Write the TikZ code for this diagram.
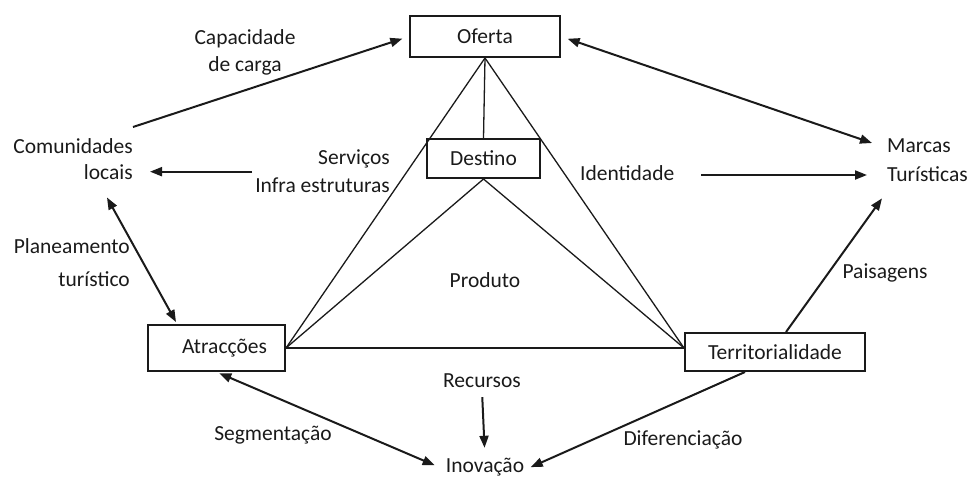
\documentclass[tikz,border=0pt]{standalone}
\usepackage{fontspec}
\setmainfont{Carlito}
\usetikzlibrary{arrows.meta}
\definecolor{ink}{HTML}{1A1A1A}
\begin{document}
\begin{tikzpicture}[x=1pt,y=-1pt,
  lbl/.style={inner sep=0pt,text=ink,font=\fontsize{21.5}{26.5}\selectfont,text height=14pt,text depth=4pt},
  mlbl/.style={inner sep=0pt,text=ink,font=\fontsize{21.5}{#1}\selectfont},
  box/.style={draw=ink,line width=2pt,inner sep=0pt,text=ink,font=\fontsize{21.5}{26.5}\selectfont},
  thin/.style={draw=ink,line width=1.3pt},
  arr/.style={draw=ink,line width=2pt,-{Triangle[length=12pt,width=9pt]}},
  darr/.style={draw=ink,line width=2pt,{Triangle[length=12pt,width=9pt]}-{Triangle[length=12pt,width=9pt]}}
]
\useasboundingbox (0,0) rectangle (974,477);
% boxes
\node[box,minimum width=150pt,minimum height=41pt] (of) at (485,36.5) {Oferta};
\node[box,minimum width=113pt,minimum height=39pt] (de) at (483.5,158.5) {Destino};
\node[box,minimum width=137pt,minimum height=46pt] (at) at (216.5,348) {\hspace*{16pt}Atracções};
\node[box,minimum width=180pt,minimum height=38pt] (te) at (775,352) {Territorialidade};
% labels
\node[mlbl=27pt,align=center,anchor=north] (cap) at (245,29) {Capacidade\\de carga};
\node[mlbl=26pt,align=right,anchor=north east] (com) at (133,138) {Comunidades\\locais};
\node[mlbl=28pt,align=right,anchor=north east] (serv) at (390,150) {Serviços\\Infra estruturas};
\node[mlbl=29pt,align=left,anchor=north west] (mar) at (887,139) {Marcas\\Turísticas};
\node[mlbl=33pt,align=right,anchor=north east] (plan) at (130,238) {Planeamento\\turístico};
\node[lbl,anchor=west] (ident) at (580,175) {Identidade};
\node[lbl] (prod) at (485,282) {Produto};
\node[lbl] (rec) at (482,382) {Recursos};
\node[lbl] (seg) at (273,435) {Segmentação};
\node[lbl] (inov) at (485,467) {Inovação};
\node[lbl] (dif) at (683,440) {Diferenciação};
\node[lbl] (pais) at (885,273) {Paisagens};
% triangle lines
\coordinate (tl) at (te.west |- at.east);
\draw[thin] (of.south) -- (at.east);
\draw[thin] (of.south) -- (tl);
\draw[thin] (of.south) -- (de.north);
\draw[thin] (de.south) -- (at.east);
\draw[thin] (de.south) -- (tl);
\draw[thin] (at.east) -- (tl);
% arrows
\draw[arr,shorten >=7pt] ([yshift=11pt]com.north east) -- (of.west);
\draw[arr,shorten <=3pt,shorten >=17pt] (serv.west) -- (serv.west -| com.east);
\draw[darr] ([xshift=-26pt,yshift=-18pt]com.south east) -- ([xshift=29pt,yshift=2pt]at.north west);
\draw[darr,shorten <=3pt,shorten >=12pt] (at.south) -- ([yshift=-3pt]inov.west);
\draw[arr,shorten <=6pt,shorten >=10pt] (rec.south) -- (inov.north);
\draw[arr,shorten >=7pt] ([xshift=-30pt]te.south) -- ([yshift=-3pt]inov.east);
\draw[arr] ([xshift=11pt]te.north) -- ([xshift=-5pt,yshift=-16pt]mar.south west);
\draw[darr,shorten <=7pt] (of.east) -- ([xshift=-15pt,yshift=-4pt]mar.north west);
\draw[arr,shorten <=27pt,shorten >=20pt] (ident.east) -- (ident.east -| mar.west);
\end{tikzpicture}
\end{document}
